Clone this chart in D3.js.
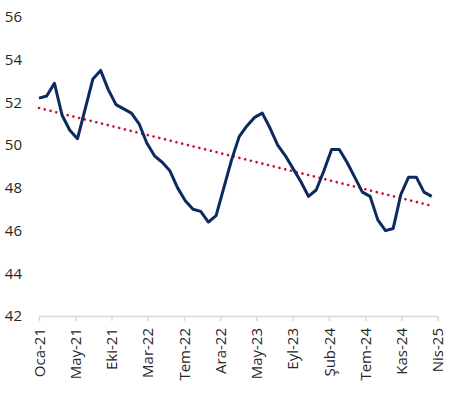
<!DOCTYPE html>
<html>
<head>
<meta charset="utf-8">
<title>PMI</title>
<script src="https://d3js.org/d3.v7.min.js"></script>
<style>
    html, body { margin: 0; padding: 0; background: #fff; }
    text { font-family: "Open Sans", sans-serif; fill: #262626; }
</style>
</head>
<body>
<div id="chart"></div>
<script>
// monthly values, Oca-21 .. Nis-25
var values = [
    52.2, 52.3, 52.9, 51.4, 50.7, 50.3, 51.7, 53.1, 53.5, 52.6,
    51.9, 51.7, 51.5, 51.0, 50.1, 49.5, 49.2, 48.8, 48.0, 47.4,
    47.0, 46.9, 46.4, 46.7, 48.0, 49.3, 50.4, 50.9, 51.3, 51.5,
    50.8, 50.0, 49.5, 48.9, 48.3, 47.6, 47.9, 48.8, 49.8, 49.8,
    49.2, 48.5, 47.8, 47.6, 46.5, 46.0, 46.1, 47.7, 48.5, 48.5,
    47.8, 47.6
];
var tickLabels = ["Oca-21", "May-21", "Eki-21", "Mar-22", "Tem-22", "Ara-22",
                  "May-23", "Eyl-23", "Şub-24", "Tem-24", "Kas-24", "Nis-25"];
var yTicks = [42, 44, 46, 48, 50, 52, 54, 56];

var w = 459, h = 393;
var svg = d3.select("#chart").append("svg")
    .attr("width", w)
    .attr("height", h);

var x = d3.scaleLinear().domain([0, values.length - 1]).range([39, 431.7]);
var xAxisScale = d3.scaleLinear().domain([0, tickLabels.length - 1]).range([39, 437.7]);
var y = d3.scaleLinear().domain([42, 56]).range([316, 17]);

// y labels (no axis line)
svg.selectAll(".ylab")
    .data(yTicks)
    .enter()
    .append("text")
    .attr("class", "ylab")
    .attr("x", 22)
    .attr("y", d => y(d))
    .attr("dy", "0.35em")
    .attr("text-anchor", "end")
    .style("font-size", "15px")
    .text(d => d);

// x axis
var gx = svg.append("g")
    .attr("transform", "translate(0," + y(42) + ")")
    .call(d3.axisBottom(xAxisScale)
        .tickValues(d3.range(tickLabels.length))
        .tickFormat(i => tickLabels[i])
        .tickSize(5)
        .tickSizeOuter(0));
gx.select(".domain").attr("stroke", "#d9d9d9").attr("stroke-width", 1.5);
gx.selectAll(".tick line").attr("stroke", "#d9d9d9").attr("stroke-width", 1.5);
gx.selectAll(".tick text")
    .style("font-size", "15px")
    .style("font-family", "'Open Sans', sans-serif")
    .attr("fill", "#262626")
    .attr("text-anchor", "end")
    .attr("transform", "rotate(-90)")
    .attr("x", -12)
    .attr("y", 0)
    .attr("dy", "0.35em");

// linear trend
var idx = d3.range(values.length);
var mx = d3.mean(idx), my = d3.mean(values);
var slope = d3.sum(idx, i => (i - mx) * (values[i] - my)) / d3.sum(idx, i => (i - mx) * (i - mx));
var icpt = my - slope * mx;

svg.append("line")
    .attr("x1", x(0))
    .attr("y1", y(icpt))
    .attr("x2", x(values.length - 1))
    .attr("y2", y(icpt + slope * (values.length - 1)))
    .attr("stroke", "#c8102e")
    .attr("stroke-width", 2.6)
    .attr("stroke-linecap", "round")
    .attr("stroke-dasharray", "0.1 5.8");

// main line
var line = d3.line()
    .x((d, i) => x(i))
    .y(d => y(d));
svg.append("path")
    .datum(values)
    .attr("d", line)
    .attr("fill", "none")
    .attr("stroke", "#0b2a5f")
    .attr("stroke-width", 3)
    .attr("stroke-linejoin", "round");
</script>
</body>
</html>
